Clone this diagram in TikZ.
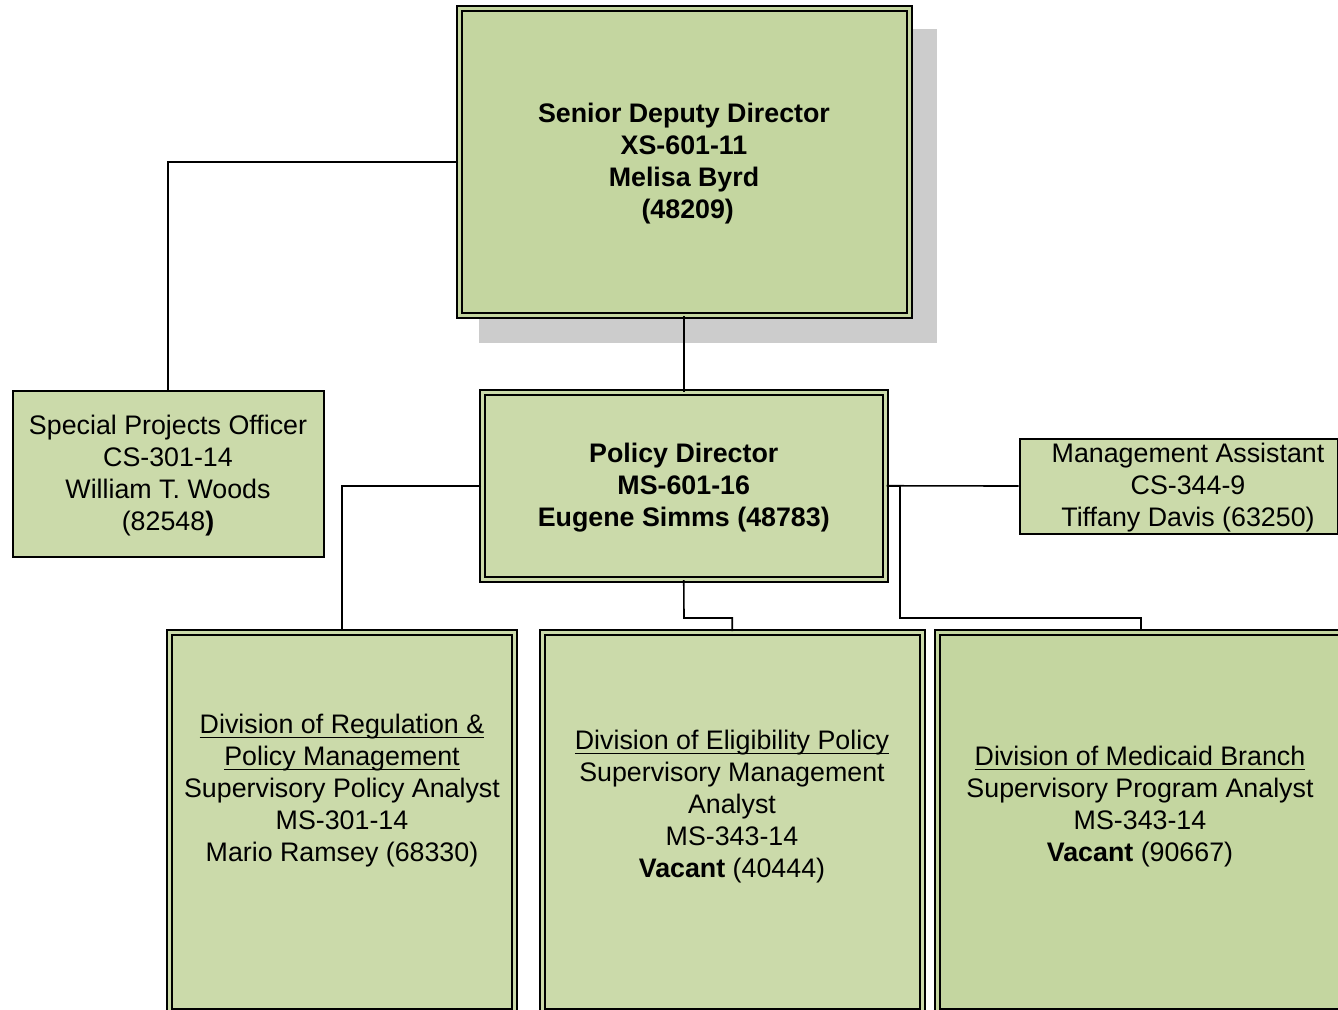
\documentclass[tikz,border=0pt]{standalone}
\usepackage{fontspec}
\setmainfont{Liberation Sans}
\definecolor{topfill}{HTML}{C4D6A0}
\definecolor{boxfill}{HTML}{CBDAAA}
\definecolor{shadowgray}{HTML}{CCCCCC}
\newcommand{\myul}[1]{\setbox0\hbox{#1}\rlap{\rule[-2.2pt]{\wd0}{0.9pt}}\box0}
\tikzset{
  dblbox/.style={draw=black, line width=1pt, double distance=1.5pt, rectangle, inner sep=0pt},
  sglbox/.style={draw=black, line width=1pt, rectangle, inner sep=0pt},
  txt/.style={align=center, font=\fontsize{13.4}{16}\selectfont, inner sep=0pt},
  btxt/.style={align=center, font=\fontsize{13.4}{16}\selectfont\bfseries, inner sep=0pt},
  conn/.style={draw=black, line width=0.8pt}
}
\begin{document}
\begin{tikzpicture}[x=0.5pt, y=-0.5pt]
\useasboundingbox (0,0) rectangle (1338,1009);
\clip (0,0) rectangle (1338,1009);
% shadow
\fill[shadowgray] (479,29) rectangle (937,343);
% top box
\node[dblbox, double=topfill, fill=topfill, minimum width=225pt, minimum height=153.25pt] (top) at (684,161.75) {};
\node[btxt] (topT) at (684,163.5) {Senior Deputy Director\\XS-601-11\\Melisa Byrd\\\ (48209)};
% policy director
\node[dblbox, double=boxfill, fill=boxfill, minimum width=201.75pt, minimum height=93.25pt] (pol) at (683.75,485.75) {};
\node[btxt] (polT) at (683.75,487.5) {Policy Director\\MS-601-16\\Eugene Simms (48783)};
% special projects
\node[sglbox, fill=boxfill, minimum width=155.5pt, minimum height=83pt] (spo) at (168,473.5) {};
\node[txt] (spoT) at (168,475.5) {Special Projects Officer\\CS-301-14\\William T. Woods\\(82548\textbf{)}};
% management assistant
\node[sglbox, fill=boxfill, minimum width=159pt, minimum height=47.5pt] (ma) at (1178.5,486) {};
\node[txt] (maT) at (1188,488) {Management Assistant\\CS-344-9\\Tiffany Davis (63250)};
% bottom boxes
\node[dblbox, double=boxfill, fill=boxfill, minimum width=172.25pt, minimum height=189.5pt] (b1) at (341.75,821.5) {};
\node[dblbox, double=boxfill, fill=boxfill, minimum width=189.75pt, minimum height=189.5pt] (b2) at (732.25,821.5) {};
\node[dblbox, double=topfill, fill=topfill, minimum width=203.75pt, minimum height=189.5pt] (b3) at (1141.25,821.5) {};
\node[txt] (b1T) at (342,791) {\myul{Division of Regulation \&}\\\myul{Policy Management}\\Supervisory Policy Analyst\\MS-301-14\\Mario Ramsey (68330)};
\node[txt] (b2T) at (732,807) {\myul{Division of Eligibility Policy}\\Supervisory Management\\Analyst\\MS-343-14\\\textbf{Vacant} (40444)};
\node[txt] (b3T) at (1140,807) {\myul{Division of Medicaid Branch}\\Supervisory Program Analyst\\MS-343-14\\\textbf{Vacant} (90667)};
% junction coordinates
\coordinate (j2) at (684,618);
\coordinate (j3) at (900,618);
% connectors
\draw[conn] (top.south) -- (top.south |- pol.north);
\draw[conn] (top.west) -| (spo.north);
\draw[conn] (pol.west) -| (b1.north);
\draw[conn] (pol.east) -- (ma.west);
\draw[conn] (pol.east) -| (j3) -| (b3.north);
\draw[conn] (pol.south) -- (j2) -| (b2.north);
\end{tikzpicture}
\end{document}
